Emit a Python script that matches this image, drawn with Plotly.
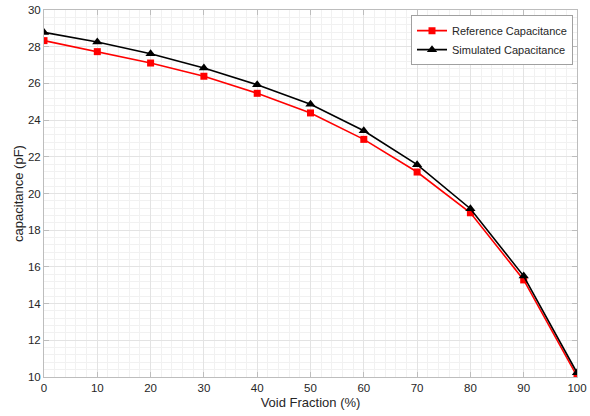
import plotly.graph_objects as go

# Void fraction sweep (%)
void_fraction = [0, 10, 20, 30, 40, 50, 60, 70, 80, 90, 100]

# Capacitance values (pF)
reference_cap = [28.33, 27.73, 27.11, 26.39, 25.46, 24.39, 22.95, 21.17, 18.95, 15.29, 10.05]
simulated_cap = [28.78, 28.26, 27.62, 26.84, 25.93, 24.86, 23.42, 21.57, 19.17, 15.50, 10.23]

x_ticks = [0, 10, 20, 30, 40, 50, 60, 70, 80, 90, 100]
y_ticks = [10, 12, 14, 16, 18, 20, 22, 24, 26, 28, 30]

FONT = "Liberation Sans, Arial, Helvetica, sans-serif"
TEXT = "#262626"
AXIS = "#bdbdbd"
GRID = "#e3e3e3"
MINOR = "#f1f1f1"

fig = go.Figure()
fig.add_trace(go.Scatter(
    x=void_fraction, y=reference_cap, mode="lines+markers",
    name="Reference Capacitance",
    line=dict(color="#ff0000", width=1.6),
    marker=dict(symbol="square", size=7, color="#ff0000"),
))
fig.add_trace(go.Scatter(
    x=void_fraction, y=simulated_cap, mode="lines+markers",
    name="Simulated Capacitance",
    line=dict(color="#000000", width=1.6),
    marker=dict(symbol="triangle-up", size=9, color="#000000"),
))

axis_common = dict(
    showline=True, linecolor=AXIS, linewidth=1, mirror="allticks",
    ticks="inside", ticklen=5, tickcolor=AXIS, tickwidth=1,
    showgrid=True, gridcolor=GRID, gridwidth=1, zeroline=False,
    tickfont=dict(family=FONT, size=11.5, color=TEXT),
    automargin=False,
)

fig.update_xaxes(
    range=[0, 100], tickvals=x_ticks,
    title=dict(text="Void Fraction (%)", font=dict(family=FONT, size=13, color=TEXT), standoff=5),
    minor=dict(dtick=2, showgrid=True, gridcolor=MINOR, gridwidth=1),
    **axis_common,
)
fig.update_yaxes(
    range=[10, 30], tickvals=y_ticks,
    title=dict(text="capacitance (pF)", font=dict(family=FONT, size=13, color=TEXT), standoff=1),
    minor=dict(dtick=0.4, showgrid=True, gridcolor=MINOR, gridwidth=1),
    **axis_common,
)

fig.update_layout(
    width=590, height=416,
    margin=dict(l=44, r=13, t=10, b=39),
    paper_bgcolor="white", plot_bgcolor="white",
    font=dict(family=FONT, size=11, color=TEXT),
    legend=dict(
        x=0.9925, y=0.986, xanchor="right", yanchor="top",
        bgcolor="white", bordercolor="#a0a0a0", borderwidth=1,
        font=dict(family=FONT, size=11, color=TEXT),
        itemwidth=30, tracegroupgap=0,
    ),
    showlegend=True,
)

fig.write_html("out.html")
